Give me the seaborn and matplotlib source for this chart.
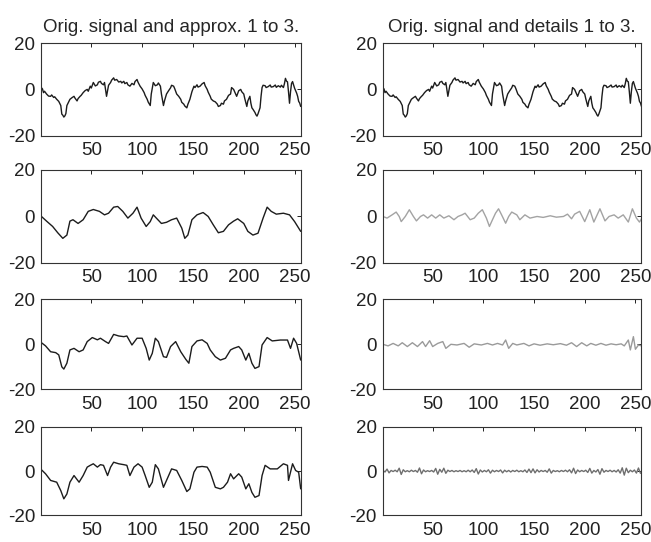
import matplotlib
matplotlib.use("Agg")
import matplotlib.pyplot as plt
import seaborn as sns

sns.set_style("white")
plt.rcParams["font.family"] = ["Liberation Sans", "DejaVu Sans"]
plt.rcParams["axes.unicode_minus"] = False

# ---- original signal ----
sig_x = [1, 2, 3, 4, 6, 8, 10, 11, 13, 14,
         16, 18, 20, 21, 22, 23, 24, 25, 26, 27,
         29, 31, 33, 34, 36, 37, 39, 40, 42, 44,
         46, 47, 49, 50, 52, 54, 56, 57, 59, 60,
         62, 63, 65, 67, 69, 70, 72, 73, 75, 77,
         79, 80, 82, 83, 85, 86, 88, 90, 92, 93,
         95, 96, 98, 100, 102, 103, 105, 106, 108, 109,
         111, 113, 115, 116, 118, 119, 121, 122, 124, 126,
         128, 129, 131, 132, 134, 136, 138, 139, 141, 142,
         144, 145, 147, 149, 151, 152, 154, 155, 157, 159,
         161, 162, 164, 165, 167, 168, 170, 172, 174, 175,
         177, 178, 180, 181, 183, 185, 187, 188, 190, 191,
         193, 195, 197, 198, 200, 201, 203, 204, 206, 207,
         208, 209, 211, 212, 213, 214, 216, 217, 218, 219,
         221, 222, 224, 226, 227, 229, 231, 232, 234, 236,
         237, 239, 240, 241, 242, 243, 244, 245, 246, 247,
         248, 249, 250, 252, 253, 254, 255, 256]
sig_y = [0.7, 0.2, -1.4, -0.8, -2.0, -2.9, -3.0, -2.4, -3.5, -3.2,
         -4.3, -5.2, -7.0, -10.7, -11.2, -12.0, -11.5, -10.5, -7.0, -6.1,
         -4.3, -3.6, -3.0, -3.8, -5.0, -4.0, -3.0, -2.6, -1.4, -0.5,
         0.0, -0.8, 1.4, 0.6, 3.0, 1.5, 2.0, 3.1, 3.5, 2.6,
         2.0, 3.0, -3.0, 1.8, 3.0, 4.0, 5.0, 4.0, 4.3, 3.2,
         3.5, 2.8, 3.5, 2.5, 3.0, 2.0, 1.4, 2.6, 2.0, 3.4,
         4.3, 3.1, 1.4, 0.2, -1.4, -2.6, -4.3, -5.5, -7.0, -2.0,
         3.0, 1.6, 2.0, 2.8, 1.4, -2.0, -7.0, -5.0, -2.0, -0.6,
         0.7, 1.8, 1.4, 0.4, -2.0, -3.0, -4.3, -5.6, -6.4, -7.2,
         -8.0, -6.5, -4.3, -1.0, 1.4, 0.8, 2.0, 1.0, 1.4, 2.4,
         3.0, 1.6, 0.0, -1.2, -3.0, -4.2, -5.0, -5.4, -6.4, -7.4,
         -7.0, -6.0, -6.4, -5.0, -4.3, -2.6, -2.0, 0.8, 0.0, -1.0,
         -3.0, -0.6, 0.0, -1.0, -2.0, -4.0, -7.4, -5.0, -3.0, -6.0,
         -8.0, -8.6, -10.0, -11.0, -11.6, -10.6, -8.0, -3.0, 0.8, 1.8,
         1.6, 0.8, 1.2, 1.9, 1.0, 1.2, 1.9, 0.9, 1.6, 1.0,
         1.8, 0.8, 2.5, 4.8, 3.6, 3.3, -1.0, -6.0, -1.0, 2.6,
         3.4, 1.9, 0.5, -1.6, -3.0, -5.2, -5.9, -7.4]

# ---- approximation at level 3 ----
a3_x = [1, 6, 12, 17, 22, 26, 29, 32, 37, 42, 47, 52, 58, 63, 67, 72, 76, 81, 86, 91,
        95, 99, 104, 108, 111, 114, 119, 124, 129, 134, 139, 142, 145, 149, 154, 160, 165, 170, 175, 180,
        185, 190, 194, 200, 204, 209, 214, 219, 223, 227, 232, 239, 245, 250, 256]
a3_y = [0.0, -2.0, -4.3, -7.0, -9.4, -8.0, -2.0, -1.4, -3.0, -1.4, 2.2, 3.0, 2.2, 0.7, 1.4, 4.0, 4.3, 2.2, -0.7, 1.4,
        4.0, -0.7, -4.3, -2.2, 0.7, -0.7, -3.0, -2.5, -1.4, -0.7, -5.0, -9.4, -8.0, -1.4, 0.7, 1.7, 0.0, -3.6, -7.0, -6.4,
        -3.6, -2.0, -1.0, -3.0, -6.4, -8.0, -7.2, -0.7, 4.0, 2.2, 1.0, 1.4, 0.7, -2.2, -6.4]

# ---- approximation at level 2 ----
a2_x = [1, 5, 10, 15, 18, 21, 23, 26, 29, 33, 38, 42, 46, 51, 56, 59, 64, 67, 72, 77,
        82, 85, 90, 95, 100, 104, 107, 110, 113, 116, 121, 124, 128, 133, 138, 143, 146, 149, 154, 159,
        164, 167, 172, 177, 182, 187, 190, 195, 198, 202, 205, 208, 211, 215, 218, 223, 228, 236, 243, 246,
        249, 252, 256]
a2_y = [0.7, -0.7, -3.3, -3.7, -4.7, -10.0, -11.0, -8.4, -2.5, -1.8, -3.3, -2.5, 1.2, 3.0, 2.0, 2.7, 1.2, 0.4, 4.4, 3.7,
        3.4, 3.7, -0.3, 2.7, 2.7, -1.8, -7.0, -4.0, 2.7, 1.2, -5.5, -5.8, -1.0, 1.2, -3.3, -6.7, -8.4, -1.0, 1.5, 2.0,
        0.4, -2.5, -5.5, -7.0, -6.2, -2.5, -1.8, -1.0, -2.5, -7.0, -4.0, -8.4, -10.7, -9.9, -0.3, 3.0, 1.5, 1.9, 1.9, -1.8,
        2.7, 0.4, -7.0]

# ---- approximation at level 1 ----
a1_x = [1, 5, 10, 16, 20, 23, 26, 29, 33, 38, 42, 46, 49, 52, 56, 59, 62, 66, 69, 72,
        77, 82, 85, 88, 92, 96, 100, 103, 107, 110, 113, 116, 121, 124, 129, 134, 139, 144, 147, 151,
        154, 159, 164, 167, 172, 177, 180, 184, 187, 190, 195, 198, 202, 205, 208, 211, 215, 218, 221, 226,
        233, 239, 243, 244, 248, 251, 254, 256]
a1_y = [0.6, -1.2, -4.2, -5.0, -8.8, -12.5, -10.3, -5.0, -2.0, -5.0, -2.0, 1.8, 2.6, 3.3, 1.8, 2.9, 2.6, -2.0, 1.8, 4.0,
        3.3, 2.9, 2.6, -2.0, 1.8, 3.3, 1.8, -2.0, -7.3, -5.0, 2.9, 1.0, -7.3, -4.2, 1.0, 0.3, -4.2, -9.2, -8.0, -0.5,
        1.8, 2.1, 1.8, -0.5, -7.3, -8.0, -7.3, -5.0, -1.2, -3.5, -1.2, -2.7, -8.0, -5.7, -9.6, -11.8, -11.0, -2.0, 2.6, 1.0,
        1.0, 3.3, 2.6, -4.2, 3.3, 0.3, -0.5, -8.0]

# ---- detail at level 3 ----
d3_x = [1, 5, 10, 14, 17, 19, 23, 27, 31, 34, 38, 41, 45, 49, 53, 57, 61, 66, 71, 75,
        79, 82, 87, 91, 95, 99, 103, 106, 109, 112, 115, 118, 122, 125, 128, 133, 136, 141, 146, 153,
        159, 166, 172, 179, 183, 187, 190, 195, 200, 205, 209, 215, 220, 224, 229, 233, 238, 243, 247, 251,
        254, 256]
d3_y = [0.0, -0.7, 0.7, 1.9, 0.0, -2.2, 0.0, 2.9, 0.0, -1.9, 0.0, 0.7, -0.7, 0.7, -0.7, 0.7, -0.7, 0.3, -1.4, 0.0,
        0.7, 1.4, -1.4, -0.7, 1.4, 2.9, -0.7, -4.3, -1.4, 1.4, 3.3, 0.7, -2.9, 0.0, 1.9, 0.7, -1.4, 0.7, -0.7, 0.0,
        -0.4, 0.3, -0.3, 0.0, 1.0, -1.0, 1.0, 2.2, -2.2, 2.9, -2.4, 3.3, -1.9, 0.0, 0.7, -0.7, 0.7, -2.4, 3.3, -0.7,
        -2.4, -1.0]

# ---- detail at level 2 ----
d2_x = [1, 6, 11, 16, 20, 25, 30, 35, 40, 43, 47, 50, 55, 60, 63, 68, 74, 81, 86, 91,
        98, 104, 109, 114, 119, 122, 125, 129, 133, 140, 145, 150, 156, 163, 169, 176, 182, 187, 192, 197,
        202, 206, 211, 216, 221, 226, 231, 236, 239, 243, 245, 248, 250, 253, 256]
d2_y = [0.0, -0.7, 0.4, -0.7, 0.7, -1.0, 0.7, -1.0, 1.2, -1.0, 1.6, -1.0, 0.4, 1.2, -1.8, 0.0, -0.3, 0.4, -1.3, 0.2,
        -0.3, 0.4, -0.3, 0.4, -0.3, 1.9, -1.8, 0.4, -0.3, 0.4, -0.7, 0.2, -0.4, 0.2, -0.2, 0.3, -0.4, 0.7, -1.0, 0.7,
        -0.7, 0.4, -0.4, 0.4, -0.4, 0.2, -0.2, 0.2, -0.7, 1.9, -2.5, 3.4, -2.2, -0.3, -0.7]

# ---- detail at level 1 ----
d1_x = list(range(1, 256, 2))
d1_y = [0.3, -0.4, 0.9, -0.8, 0.3, -0.2, 0.4, -0.3, 1.3, -1.5,
        0.6, -0.3, 0.2, -0.3, 0.4, -0.2, 0.3, -0.5, 1.4, -1.2,
        0.5, -0.3, 0.2, -0.2, 0.3, -0.4, 1.2, -1.4, 0.8, -0.5,
        1.3, -1.0, 0.4, -0.2, 0.3, -0.3, 0.2, -0.2, 0.3, -0.3,
        0.2, -0.3, 0.4, -0.3, 0.5, -0.6, 1.1, -1.3, 0.5, -0.4,
        0.3, -0.3, 0.6, -0.9, 0.4, -0.3, 0.3, -0.2, 0.5, -0.8,
        0.4, -0.3, 0.3, -0.4, 0.3, -0.2, 0.4, -0.3, 0.2, -0.3,
        0.5, -0.6, 0.9, -0.7, 1.0, -0.8, 0.6, -0.4, 0.3, -0.2,
        0.3, -0.5, 1.0, -0.9, 0.3, -0.2, 0.2, -0.3, 0.3, -0.2,
        0.4, -0.3, 0.6, -0.8, 1.3, -1.1, 0.5, -0.3, 0.3, -0.2,
        0.4, -0.6, 1.2, -0.9, 0.3, -0.4, 0.7, -1.4, 1.1, -0.5,
        0.3, -0.2, 0.4, -0.3, 0.3, -0.4, 0.6, -0.9, 1.5, -1.8,
        1.3, -0.7, 0.4, -0.3, 0.5, -0.9, 1.4, -1.0]

titles = ["Orig. signal and approx. 1 to 3.", "Orig. signal and details 1 to 3."]
x_ticks = [50, 100, 150, 200, 250]
y_ticks = [-20, 0, 20]

dark = "#1c1c1c"
panels = [
    [(sig_x, sig_y, dark), (sig_x, sig_y, dark)],
    [(a3_x, a3_y, dark), (d3_x, d3_y, "#a3a3a3")],
    [(a2_x, a2_y, dark), (d2_x, d2_y, "#9a9a9a")],
    [(a1_x, a1_y, dark), (d1_x, d1_y, "#6e6e6e")],
]

fig = plt.figure(figsize=(6.51, 5.42), dpi=100)
col_pos = [(0.0637, 0.3982), (0.5883, 0.3971)]
row_pos = [(0.7500, 0.1701), (0.5148, 0.1716), (0.2817, 0.1661), (0.0489, 0.1638)]

for r, (b, h) in enumerate(row_pos):
    for c, (l, w) in enumerate(col_pos):
        ax = fig.add_axes([l, b, w, h])
        xs, ys, col = panels[r][c]
        sns.lineplot(x=xs, y=ys, ax=ax, color=col, linewidth=1.0,
                     estimator=None, sort=False)
        ax.set_xlim(1, 256)
        ax.set_ylim(-20, 20)
        ax.set_xticks(x_ticks)
        ax.set_yticks(y_ticks)
        ax.set_xlabel("")
        ax.set_ylabel("")
        ax.tick_params(direction="in", length=3, width=0.7, colors="#222222",
                       top=True, right=True, labelsize=13.5)
        ax.tick_params(axis="x", pad=4.5)
        ax.tick_params(axis="y", pad=4.5)
        for s in ax.spines.values():
            s.set_color("#333333")
            s.set_linewidth(0.8)
        if r == 0:
            ax.set_title(titles[c], fontsize=13.5, pad=8)

fig.savefig("out.png", dpi=100)
